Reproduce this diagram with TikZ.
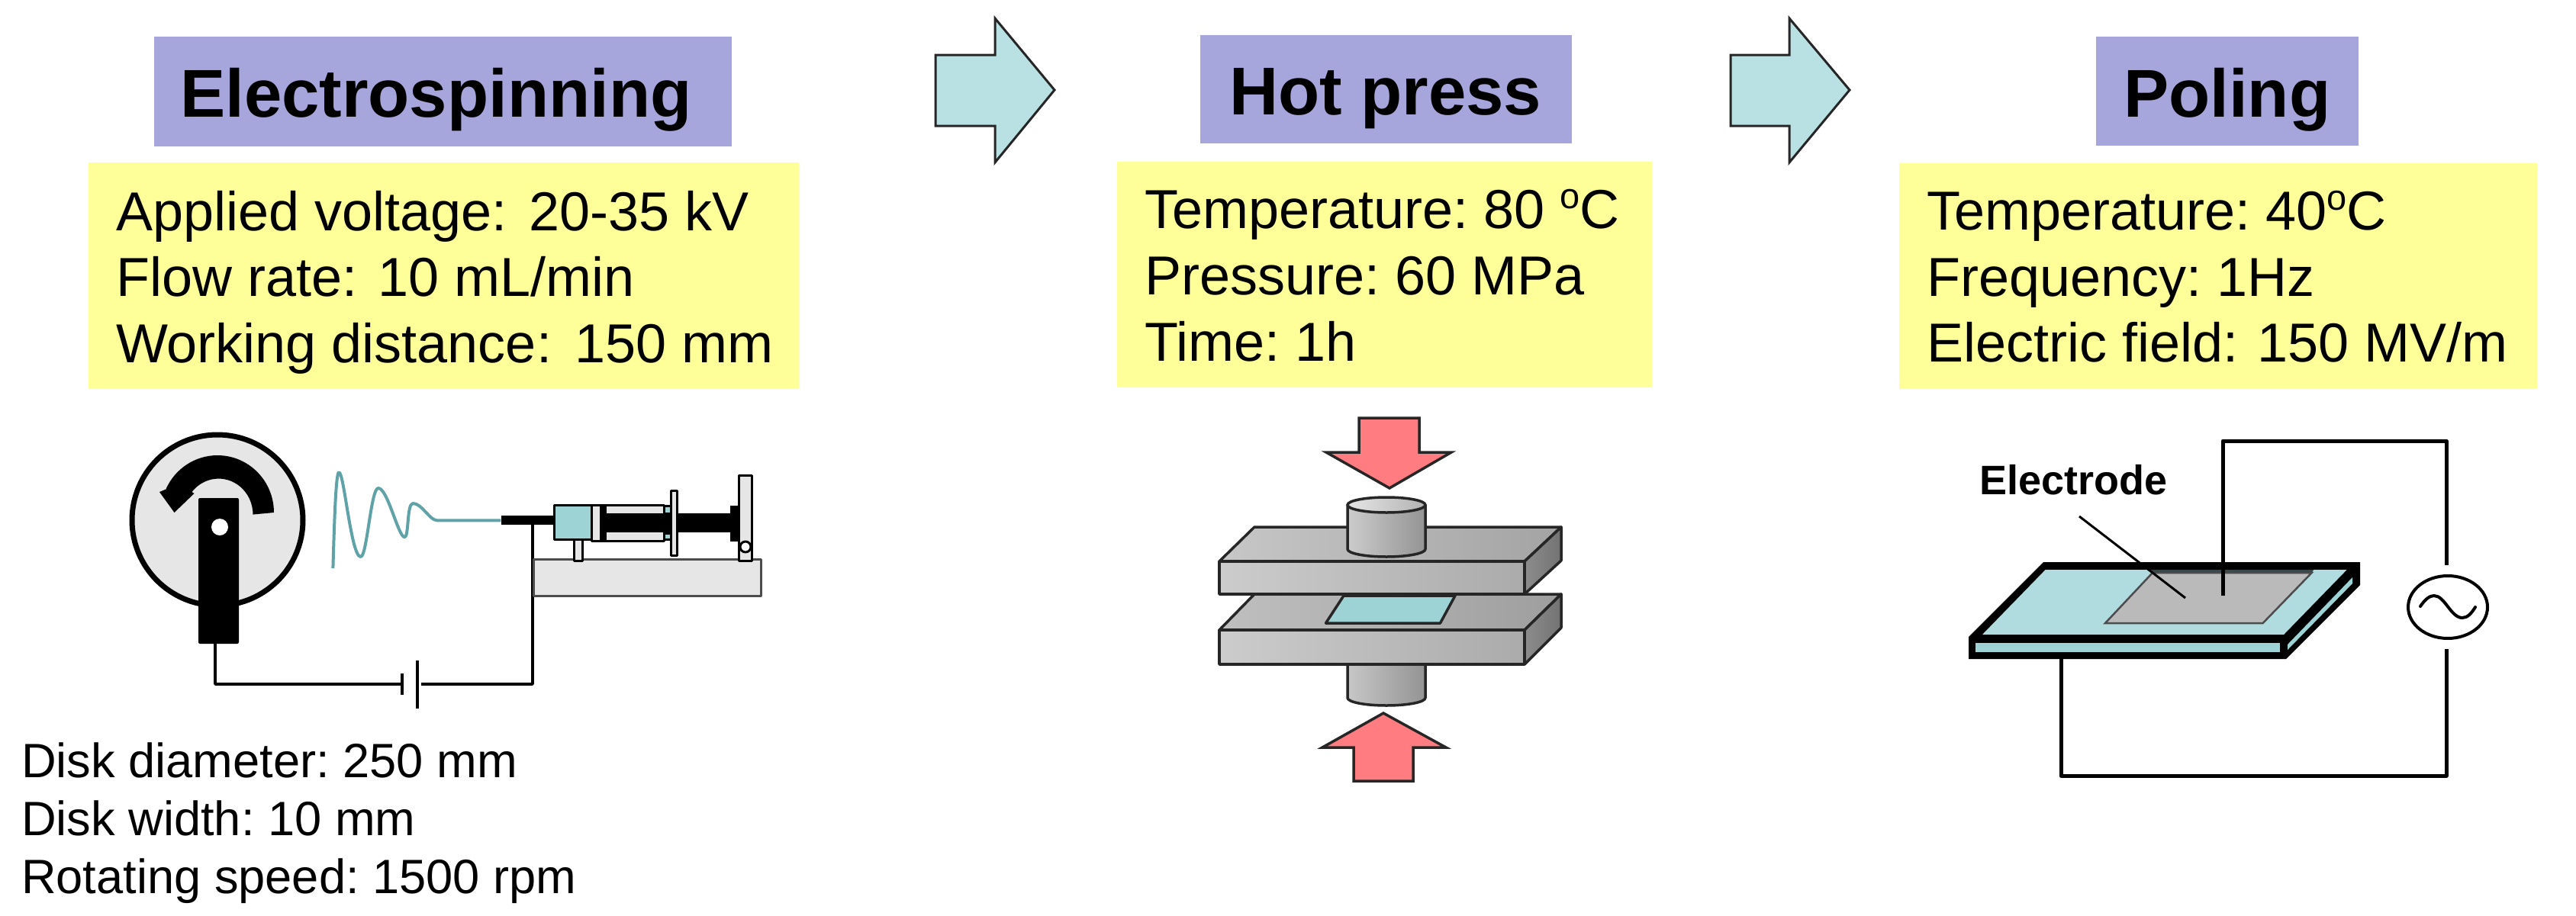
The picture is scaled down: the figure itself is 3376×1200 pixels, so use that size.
\documentclass[tikz,border=0pt]{standalone}
\usepackage{fontspec}
\setmainfont{Liberation Sans}
\frenchspacing
\definecolor{headfill}{HTML}{A6A6DD}
\definecolor{notefill}{HTML}{FFFF99}
\definecolor{flowfill}{HTML}{B9E0E2}
\definecolor{pressfill}{HTML}{FF7C80}
\definecolor{teal}{HTML}{9ED3D6}
\definecolor{tealtop}{HTML}{B0DCDF}
\definecolor{fibre}{HTML}{5FA3A8}
\definecolor{lightgrey}{HTML}{E6E6E6}
\newcommand{\dego}{\raisebox{0.36em}{\fontsize{47}{47}\selectfont o}}
\tikzset{
  headbox/.style={fill=headfill,draw=none},
  notebox/.style={fill=notefill,draw=none},
  headtext/.style={anchor=base west,inner sep=0pt,font=\fontsize{88.7}{100}\selectfont\bfseries},
  notetext/.style={anchor=base west,inner sep=0pt,font=\fontsize{72}{85}\selectfont},
  disktext/.style={anchor=base west,inner sep=0pt,font=\fontsize{63.2}{76}\selectfont},
  flowarrow/.style={fill=flowfill,draw=black!85,line width=3pt,miter limit=10},
  pressarrow/.style={fill=pressfill,draw=black!85,line width=3.5pt,miter limit=10},
  part/.style={draw=black,line width=3pt,line join=round},
  pressline/.style={draw=black!85,line width=3.5pt,line join=round},
  wire/.style={draw=black,line width=3.5pt,line join=round},
  polewire/.style={draw=black,line width=5pt,line join=round},
}
\begin{document}
\begin{tikzpicture}[x=1pt,y=1pt,yscale=-1]
\useasboundingbox (0,0) rectangle (3376,1200);

% ---- header and note boxes
\path[headbox] (202,48) rectangle (959,192);
\path[headbox] (1573,46) rectangle (2060,188);
\path[headbox] (2747,48) rectangle (3091,191);
\path[notebox] (116,213) rectangle (1047,510);
\path[notebox] (1464,212) rectangle (2165,508);
\path[notebox] (2489,214) rectangle (3325,510);

\node[headtext] (h1) at (236,153) {Electrospinning};
\node[headtext] (h2) at (1611,150) {Hot press};
\node[headtext] (h3) at (2783,153) {Poling};

\node[notetext] (a1) at (152,302) {Applied voltage:\hspace{0.4em}20-35 kV};
\node[notetext] (a2) at (152,388) {Flow rate:\hspace{0.38em}10 mL/min};
\node[notetext] (a3) at (152,475) {Working distance:\hspace{0.42em}150 mm};
\node[notetext] (b1) at (1500,299) {Temperature: 80 \dego C};
\node[notetext] (b2) at (1500,386) {Pressure: 60 MPa};
\node[notetext] (b3) at (1500,473) {Time: 1h};
\node[notetext] (c1) at (2525,301) {Temperature: 40\dego C};
\node[notetext] (c2) at (2525,388) {Frequency: 1Hz};
\node[notetext] (c3) at (2525,474) {Electric field:\hspace{0.35em}150 MV/m};

\node[disktext] (d1) at (28,1019) {Disk diameter: 250 mm};
\node[disktext] (d2) at (28,1095) {Disk width: 10 mm};
\node[disktext] (d3) at (28,1171) {Rotating speed: 1500 rpm};

% ---- flow arrows
\draw[flowarrow] (1226,72) -- (1304,72) -- (1304,24) -- (1382,118) -- (1304,213) -- (1304,165) -- (1226,165) -- cycle;
\draw[flowarrow] (2268,72) -- (2345,72) -- (2345,24) -- (2424,118) -- (2345,213) -- (2345,165) -- (2268,165) -- cycle;

% ---- electrospinning: disk
\draw[fill=lightgrey,draw=black,line width=7pt] (285,682) circle[radius=112pt];
\fill[black] (359,672) arc[start angle=0,end angle=-156,x radius=74pt,y radius=75pt]
  -- (209,645) -- (228.5,672) -- (254.5,647) -- (251.5,645)
  arc[start angle=-141,end angle=0,x radius=45pt,y radius=47pt] -- cycle;
\fill[black,rounded corners=2pt] (260,653) rectangle (313,844);
\fill[white] (288,691) circle[radius=11pt];

% ---- circuit
\coordinate (wa) at (282,844);
\coordinate (wb) at (282,897);
\coordinate (wc) at (527,897);
\coordinate (wd) at (552,897);
\coordinate (we) at (698,897);
\coordinate (wf) at (698,688);
\draw[wire] (wa) -- (wb) -- (wc);
\draw[wire] (wd) -- (we) -- (wf);
\draw[wire] (527,883) -- (527,911);
\draw[wire] (547,866) -- (547,929);

% ---- fibre
\draw[draw=fibre,line width=4pt,line join=round]
  (436.4,745) .. controls (438,690) and (440,619) .. (444.2,619.3)
  .. controls (451,619) and (460,730) .. (472.7,730)
  .. controls (481,730) and (486,640) .. (495.8,640)
  .. controls (508,640) and (522,704.3) .. (530.3,704.3)
  .. controls (536,704.3) and (533,660) .. (541.2,660)
  .. controls (553,660) and (563,682.3) .. (572.7,682.3) -- (656.4,682.3);

% ---- syringe pump
\draw[draw=black!70,line width=3pt,fill=lightgrey,line join=round] (699,733) rectangle (997,781);
\draw[part,fill=lightgrey] (752,707) rectangle (763,735);
\draw[part,fill=lightgrey] (968,623) rectangle (985,735);
\fill[black] (657,676) rectangle (726,688);
\draw[part,fill=lightgrey] (775,662) rectangle (870,709);
\draw[part,fill=teal] (726,662) rectangle (775,707);
\fill[black] (786,662) rectangle (795,709);
\fill[black] (795,673) rectangle (957,698);
\draw[part,fill=teal] (870,663) rectangle (879,673);
\draw[part,fill=teal] (870,699) rectangle (879,707);
\fill[black] (957,663) rectangle (968,710);
\draw[part,fill=lightgrey] (879,643) rectangle (887,728);
\draw[part,fill=white] (977,717) circle[radius=7pt];

% ---- hot press
\draw[pressarrow] (1781,548) -- (1860,548) -- (1860,593) -- (1902,593) -- (1821,640) -- (1738,593) -- (1781,593) -- cycle;
\draw[pressarrow] (1774,1024) -- (1852,1024) -- (1852,980) -- (1895,980) -- (1813,935) -- (1733,980) -- (1774,980) -- cycle;

\draw[pressline,left color=black!22,right color=black!42] (1766,868) -- (1766,915)
  arc[start angle=180,end angle=0,x radius=51pt,y radius=10pt] -- (1868,868) -- cycle;

\draw[pressline,left color=black!25,right color=black!38] (1598,826) -- (1644,779) -- (2046,779) -- (1998,826) -- cycle;
\draw[pressline,left color=black!20,right color=black!33] (1598,826) rectangle (1998,871);
\draw[pressline,left color=black!45,right color=black!55] (1998,826) -- (2046,779) -- (2046,823) -- (1998,871) -- cycle;
\draw[pressline,fill=teal] (1761,781) -- (1907,781) -- (1887.5,817) -- (1737.5,817) -- cycle;

\draw[pressline,left color=black!22,right color=black!36] (1598,736) -- (1644,691) -- (2046,691) -- (1998,736) -- cycle;
\draw[pressline,left color=black!20,right color=black!33] (1598,736) rectangle (1998,779);
\draw[pressline,left color=black!45,right color=black!55] (1998,736) -- (2046,691) -- (2046,735) -- (1998,779) -- cycle;

\draw[pressline,left color=black!20,right color=black!42] (1766,662) -- (1766,720)
  arc[start angle=180,end angle=0,x radius=51pt,y radius=10pt] -- (1868,662) -- cycle;
\draw[pressline,left color=black!10,right color=black!30] (1817,662) ellipse[x radius=51pt,y radius=10pt];

% ---- poling
\coordinate (pa) at (2913,781);
\coordinate (pb) at (2913,578);
\coordinate (pc) at (3206,578);
\coordinate (pd) at (3206,741);
\coordinate (pe) at (3206,851);
\coordinate (pf) at (3206,1017);
\coordinate (pg) at (2701,1017);
\coordinate (ph) at (2701,864);

\fill[black] (2580,864) -- (2580,835) -- (2678,737) -- (3093,737) -- (3093,767) -- (2996,864) -- cycle;
\fill[tealtop] (2598,832) -- (2680.6,747) -- (3075.6,747) -- (2993,832) -- cycle;
\fill[teal] (2589,843) rectangle (2988,855);
\fill[teal] (2998,845) -- (3083,757) -- (3083,765) -- (2998,852) -- cycle;
\fill[black!65!teal] (2815,747) -- (3032,747) -- (3030,751) -- (2821,751) -- cycle;
\draw[draw=black!70,line width=2.5pt,fill=black!27] (2821,751) -- (3029.6,751) -- (2965.6,817) -- (2759,817) -- cycle;
\draw[polewire] (pa) -- (pb) -- (pc) -- (pd);
\draw[polewire] (pe) -- (pf) -- (pg) -- (ph);
\coordinate (la) at (2725,677);
\coordinate (lb) at (2864,784);
\draw[draw=black,line width=3pt] (la) -- (lb);
\node[anchor=base west,inner sep=0pt,font=\fontsize{54}{60}\selectfont\bfseries] (el) at (2594,648) {Electrode};

\draw[draw=black,line width=4pt] (3208,796) ellipse[x radius=52pt,y radius=41pt];
\draw[draw=black,line width=4pt,line cap=round] (3172,795)
  .. controls (3178,786) and (3184,781) .. (3190,781)
  .. controls (3204,781) and (3212,810) .. (3227,810)
  .. controls (3234,810) and (3239,804) .. (3244,796);
\end{tikzpicture}
\end{document}
